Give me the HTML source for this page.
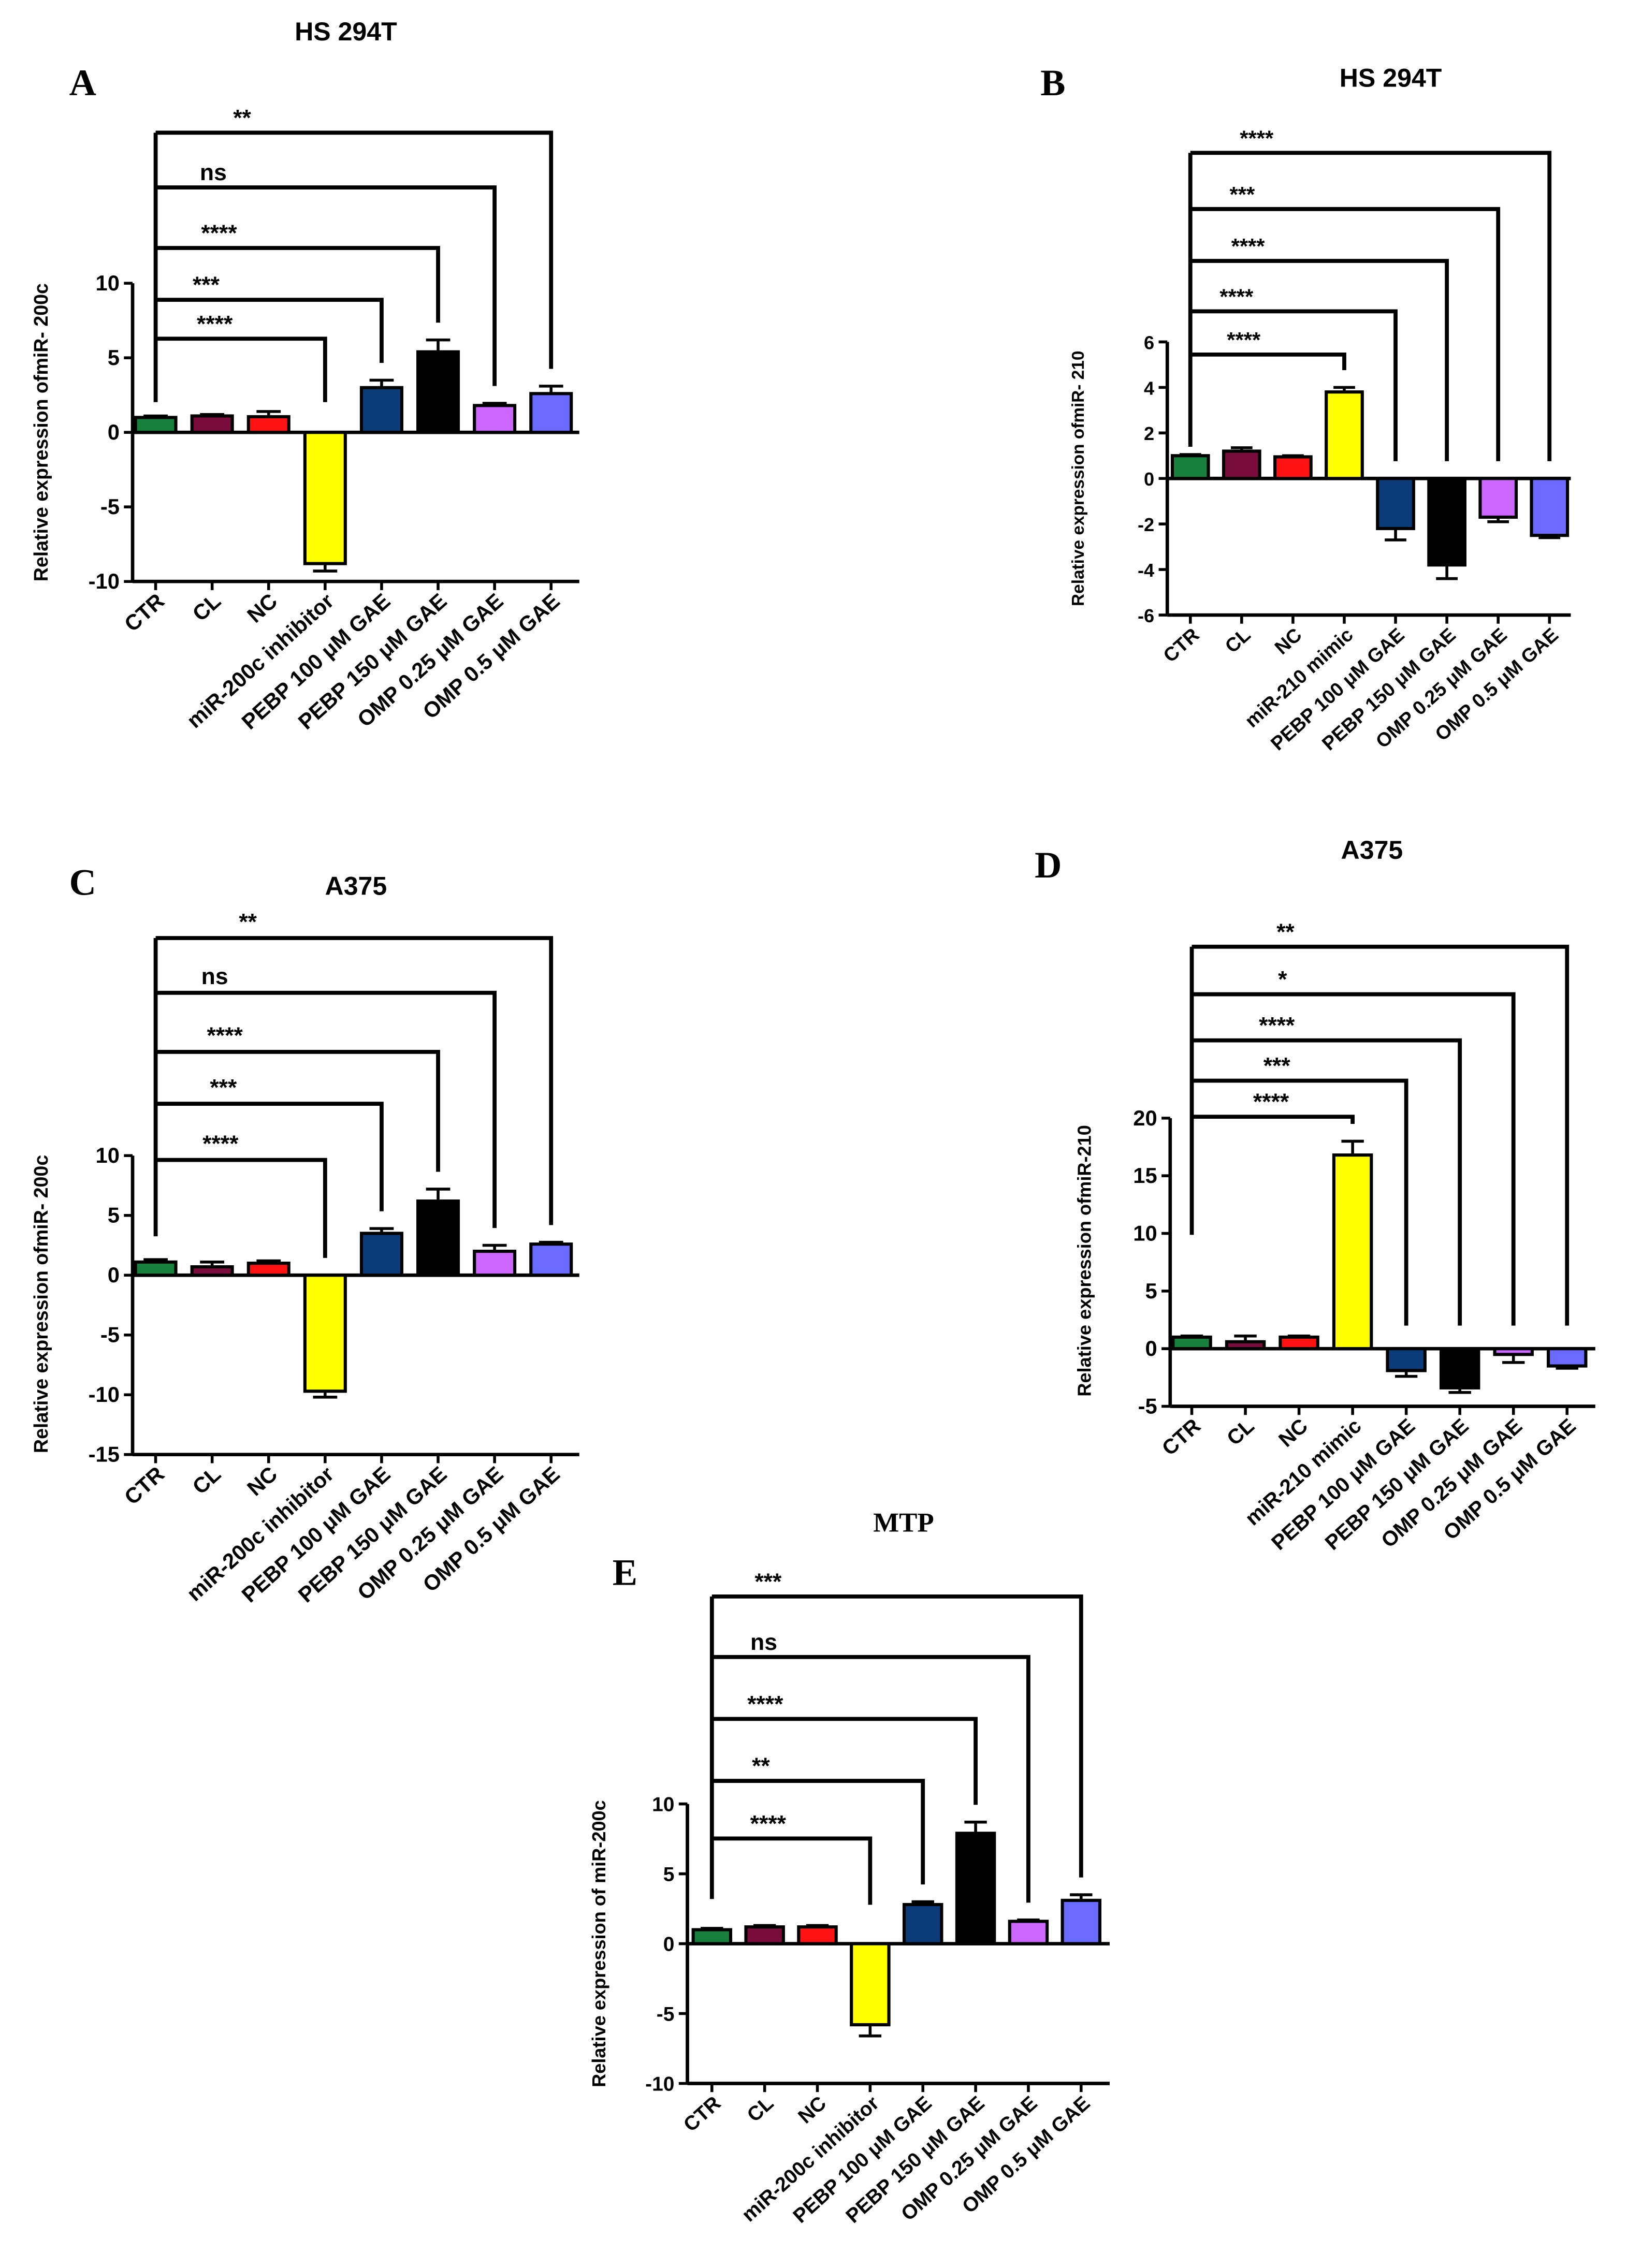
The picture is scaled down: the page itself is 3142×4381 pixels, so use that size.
<!DOCTYPE html>
<html><head><meta charset="utf-8"><style>
html,body{margin:0;padding:0;background:#fff;}
svg{display:block;}
text{font-family:"Liberation Sans",Arial,sans-serif;font-weight:bold;fill:#000;}
.ser{font-family:"Liberation Serif","Times New Roman",serif;}
</style></head><body>
<svg id="fig" width="3142" height="4381" viewBox="0 0 1129 1574" xmlns="http://www.w3.org/2000/svg">
<rect width="1129" height="1574" fill="#fff"/>
</svg>
<script>
const catsA = ["CTR","CL","NC","miR-200c inhibitor","PEBP 100 μM GAE","PEBP 150 μM GAE","OMP 0.25 μM GAE","OMP 0.5 μM GAE"];
const catsB = ["CTR","CL","NC","miR-210 mimic","PEBP 100 μM GAE","PEBP 150 μM GAE","OMP 0.25 μM GAE","OMP 0.5 μM GAE"];
const valsA = [1.0,1.1,1.05,-8.8,3.0,5.4,1.8,2.6];
const errsA = [1.1,1.2,1.4,-9.3,3.5,6.2,1.95,3.1];
const sigA = ["****","***","****","ns","**"];
const valsB = [1.0,1.2,0.95,3.8,-2.2,-3.8,-1.7,-2.5];
const errsB = [1.05,1.35,1.0,4.0,-2.7,-4.4,-1.9,-2.6];
const sigB = ["****","****","****","***","****"];
const valsC = [1.1,0.7,1.0,-9.7,3.5,6.2,2.0,2.6];
const errsC = [1.3,1.1,1.2,-10.2,3.9,7.2,2.5,2.75];
const sigC = ["****","***","****","ns","**"];
const valsD = [1.0,0.6,1.0,16.8,-1.9,-3.4,-0.5,-1.5];
const errsD = [1.1,1.1,1.1,18.0,-2.4,-3.8,-1.2,-1.7];
const sigD = ["****","***","****","*","**"];
const valsE = [1.0,1.2,1.2,-5.8,2.8,7.9,1.6,3.1];
const errsE = [1.1,1.3,1.3,-6.6,3.0,8.7,1.7,3.5];
const sigE = ["****","**","****","ns","***"];
const ticksA = [10,5,0,-5,-10];
const ticksB = [6,4,2,0,-2,-4,-6];
const ticksC = [10,5,0,-5,-10,-15];
const ticksD = [20,15,10,5,0,-5];
const ticksE = [10,5,0,-5,-10];
const colors = ["#17803d","#7a0c3c","#ff1212","#ffff00","#0b3b78","#000000","#cc66ff","#6a6aff"];

const NS="http://www.w3.org/2000/svg";
const svg=document.getElementById('fig');
function mk(tag,attrs,parent){const e=document.createElementNS(NS,tag);for(const k in attrs)e.setAttribute(k,attrs[k]);(parent||svg).appendChild(e);return e;}

function panel(id,cats,vals,errs,ticks,sig,L){
  const g=mk('g',{});
  
  
  const y=v=>L.y0-(v*L.k);
  const x=i=>L.x0+i*L.dx;
  const t=mk('text',{x:L.tx,y:L.ty,'text-anchor':'middle','font-size':L.tfs||18},g);
  if(L.tser)t.setAttribute('class','ser');
  t.textContent=L.title;
  
  
  const lt=mk('text',{x:L.lx,y:L.ly,'font-size':26,class:'ser'},g);
  lt.textContent=id;
  
  
  const ymax=ticks[0],ymin=ticks[ticks.length-1];
  const ax=mk('line',{x1:L.ax,x2:L.ax,y1:y(ymax),y2:y(ymin),stroke:'#000','stroke-width':2.4},g);
  
  
  ticks.forEach(v=>{
    mk('line',{x1:L.ax-6,x2:L.ax,y1:y(v),y2:y(v),stroke:'#000','stroke-width':2},g);
    const tl=mk('text',{x:L.ax-9,y:y(v)+5,'text-anchor':'end','font-size':L.fs},g);
    tl.textContent=v;
    
    
  });
  const xa=mk('line',{x1:L.ax,x2:L.xe,y1:y(ymin),y2:y(ymin),stroke:'#000','stroke-width':2.4},g);
  
  
  mk('line',{x1:L.ax,x2:L.xe,y1:y(0),y2:y(0),stroke:'#000','stroke-width':2.4},g);
  const yl=mk('text',{x:0,y:0,'text-anchor':'middle','font-size':L.ylfs,transform:`translate(${L.ylx},${L.yly}) rotate(-90)`},g);
  yl.textContent=L.ylabel;
  
  
  vals.forEach((v,i)=>{
    const cx=x(i),bw=L.bw;
    const top=Math.min(y(v),y(0)),h=Math.abs(y(v)-y(0));
    const e=errs[i];
    mk('line',{x1:cx,x2:cx,y1:y(v),y2:y(e),stroke:'#000','stroke-width':2},g);
    mk('line',{x1:cx-bw*0.3,x2:cx+bw*0.3,y1:y(e),y2:y(e),stroke:'#000','stroke-width':2},g);
    const r=mk('rect',{x:cx-bw/2,y:top,width:bw,height:h,fill:colors[i],stroke:'#000','stroke-width':2.2},g);
    
    
    mk('line',{x1:cx,x2:cx,y1:y(ymin),y2:y(ymin)+6,stroke:'#000','stroke-width':2},g);
    const lab=mk('text',{x:0,y:0,'text-anchor':'end','font-size':L.xfs,transform:`translate(${cx+7},${y(ymin)+15}) rotate(-42)`},g);
    lab.textContent=cats[i];
    
    
  });
  const cx0=x(0);
  mk('line',{x1:cx0,x2:cx0,y1:L.br[L.br.length-1],y2:L.leftEnd,stroke:'#000','stroke-width':2.8},g);
  sig.forEach((s,j)=>{
    const tx=x(L.targets[j]);
    const tv=Math.max(0,vals[L.targets[j]],errs[L.targets[j]]);
    const endY=Math.min(y(tv)-12,L.maxEnd);
    const p=mk('path',{d:`M${cx0},${L.br[j]} H${tx} V${endY}`,fill:'none',stroke:'#000','stroke-width':2.8},g);
    
    
    const st=mk('text',{x:L.sx[j],y:L.br[j]-L.sdy,'text-anchor':'middle','font-size':L.sfs},g);
    st.textContent=s;
    
    
  });
}
const T=[3,4,5,6,7];
panel('A',catsA,valsA,errsA,ticksA,sigA,{title:'HS 294T',tx:240,ty:28,lx:48,ly:66,ax:92,xe:402,x0:108,dx:39.2,bw:28,y0:300,k:10.35,fs:15,xfs:15,ylfs:13.5,ylx:33,yly:300,ylabel:'Relative expression ofmiR- 200c',br:[235,208,172,130,92],leftEnd:279,maxEnd:279,targets:T,sx:[149,143,152,148,168],sdy:5,sfs:16});
panel('B',catsB,valsB,errsB,ticksB,sigB,{title:'HS 294T',tx:965,ty:60,lx:722,ly:66,ax:810,xe:1090,x0:826,dx:35.6,bw:25,y0:332,k:15.8,fs:13,xfs:13.5,ylfs:12,ylx:752,yly:332,ylabel:'Relative expression ofmiR- 210',br:[246,216,181,145,106],leftEnd:310,maxEnd:322,targets:T,sx:[863,858,866,862,872],sdy:5,sfs:15});
panel('C',catsA,valsC,errsC,ticksC,sigC,{title:'A375',tx:247,ty:621,lx:48,ly:621,ax:92,xe:402,x0:108,dx:39.2,bw:28,y0:885,k:8.3,fs:15,xfs:15,ylfs:13.5,ylx:33,yly:905,ylabel:'Relative expression ofmiR- 200c',br:[805,766,730,689,651],leftEnd:858,maxEnd:875,targets:T,sx:[153,155,156,149,172],sdy:6,sfs:16});
panel('D',catsB,valsD,errsD,ticksD,sigD,{title:'A375',tx:952,ty:596,lx:718,ly:609,ax:812,xe:1107,x0:827,dx:37.2,bw:26,y0:936,k:8.0,fs:15,xfs:14.5,ylfs:13,ylx:757,yly:875,ylabel:'Relative expression ofmiR-210',br:[775,750,722,690,657],leftEnd:857,maxEnd:920,targets:T,sx:[882,886,886,890,892],sdy:5,sfs:16});
panel('E',catsA,valsE,errsE,ticksE,sigE,{title:'MTP',tx:627,ty:1063,tser:1,tfs:19,lx:425,ly:1100,ax:477,xe:770,x0:494,dx:36.6,bw:26,y0:1349,k:9.7,fs:14,xfs:14,ylfs:13,ylx:420,yly:1349,ylabel:'Relative expression of miR-200c',br:[1276,1236,1193,1150,1108],leftEnd:1318,maxEnd:1322,targets:T,sx:[533,528,531,530,533],sdy:5,sfs:16});
</script>
</body></html>
